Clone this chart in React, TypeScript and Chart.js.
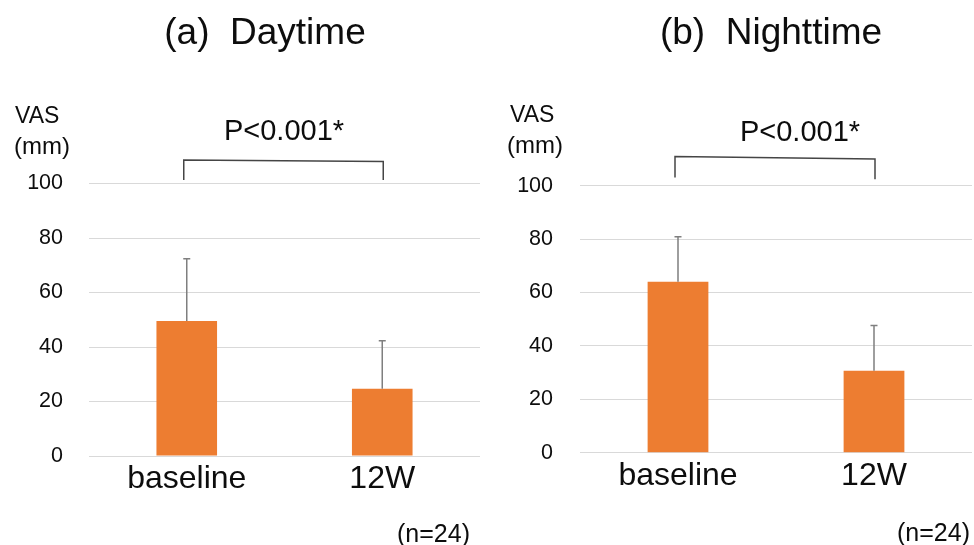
import React, { useEffect, useRef } from 'react';
import { Chart, registerables } from 'chart.js';

Chart.register(...registerables);

// ---------- data ----------
const categories = ['baseline', '12W'];
const daytimeMean = [49.5, 24.7];
const daytimeSD = [22.9, 17.6];
const nighttimeMean = [64.0, 30.7];
const nighttimeSD = [16.9, 16.9];
const yMin = 0;
const yMax = 100;
const yStep = 20;
const pValueLabel = 'P<0.001*';
const sampleLabel = '(n=24)';
const unitLines = ['VAS', '(mm)'];
// bracket heights in VAS units: [left bottom, left top, right top, right bottom]
const daytimeBracket = [101.3, 108.6, 108.1, 101.3];
const nighttimeBracket = [103.1, 110.9, 110.0, 102.4];

// ---------- styles ----------
const FONT = "'Liberation Sans', Arial, Helvetica, sans-serif";
const BAR_COLOR = '#ED7D31';
const GRID_COLOR = '#d9d9d9';
const TEXT_COLOR = '#0d0d0d';
const ERR_COLOR = '#7f7f7f';
const BRACKET_COLOR = '#454545';

type Layout = {
  canvasLeft: number;
  padTop: number;
  padRight: number;
  yWidth: number;
  xHeight: number;
  yPad: number;
  titleX: number;
  titleY: number;
  pX: number;
  pY: number;
  vasX: number;
  vasY: number;
  mmX: number;
  mmY: number;
  nX: number;
  nY: number;
};

type Panel = {
  title: string;
  mean: number[];
  sd: number[];
  bracket: number[];
  layout: Layout;
};

const panels: Panel[] = [
  {
    title: '(a)  Daytime',
    mean: daytimeMean,
    sd: daytimeSD,
    bracket: daytimeBracket,
    layout: {
      canvasLeft: 0,
      padTop: 183.5,
      padRight: 7,
      yWidth: 89,
      xHeight: 89,
      yPad: 26,
      titleX: 265,
      titleY: 44,
      pX: 284,
      pY: 140,
      vasX: 15,
      vasY: 122.5,
      mmX: 14,
      mmY: 153.5,
      nX: 470,
      nY: 541.5,
    },
  },
  {
    title: '(b)  Nighttime',
    mean: nighttimeMean,
    sd: nighttimeSD,
    bracket: nighttimeBracket,
    layout: {
      canvasLeft: 487,
      padTop: 185.7,
      padRight: 2,
      yWidth: 93,
      xHeight: 92.3,
      yPad: 27,
      titleX: 284,
      titleY: 43.5,
      pX: 313,
      pY: 140.5,
      vasX: 23,
      vasY: 122,
      mmX: 20,
      mmY: 152.5,
      nX: 483,
      nY: 540.5,
    },
  },
];

function makeAnnotations(p: Panel) {
  return {
    id: 'annotations',
    afterDatasetsDraw(chart: any) {
      const ctx: CanvasRenderingContext2D = chart.ctx;
      const ys = chart.scales.y;
      const meta = chart.getDatasetMeta(0);
      const L = p.layout;
      ctx.save();

      // error bars (mean + SD)
      ctx.strokeStyle = ERR_COLOR;
      ctx.lineWidth = 1.5;
      p.mean.forEach((m, i) => {
        const x = meta.data[i].x;
        const y0 = ys.getPixelForValue(m);
        const y1 = ys.getPixelForValue(m + p.sd[i]);
        ctx.beginPath();
        ctx.moveTo(x, y0);
        ctx.lineTo(x, y1);
        ctx.moveTo(x - 3.5, y1);
        ctx.lineTo(x + 3.5, y1);
        ctx.stroke();
      });

      // significance bracket
      const xa = meta.data[0].x - 3;
      const xb = meta.data[1].x + 1;
      ctx.strokeStyle = BRACKET_COLOR;
      ctx.lineWidth = 1.5;
      ctx.beginPath();
      ctx.moveTo(xa, ys.getPixelForValue(p.bracket[0]));
      ctx.lineTo(xa, ys.getPixelForValue(p.bracket[1]));
      ctx.lineTo(xb, ys.getPixelForValue(p.bracket[2]));
      ctx.lineTo(xb, ys.getPixelForValue(p.bracket[3]));
      ctx.stroke();

      ctx.fillStyle = TEXT_COLOR;
      ctx.textBaseline = 'alphabetic';

      // title
      ctx.textAlign = 'center';
      ctx.font = `37px ${FONT}`;
      ctx.fillText(p.title, L.titleX, L.titleY);

      // p value
      ctx.font = `29px ${FONT}`;
      ctx.fillText(pValueLabel, L.pX, L.pY);

      // unit label
      ctx.textAlign = 'left';
      ctx.font = `23px ${FONT}`;
      ctx.fillText(unitLines[0], L.vasX, L.vasY);
      ctx.font = `24px ${FONT}`;
      ctx.fillText(unitLines[1], L.mmX, L.mmY);

      // sample size
      ctx.textAlign = 'right';
      ctx.font = `25px ${FONT}`;
      ctx.fillText(sampleLabel, L.nX, L.nY);

      ctx.restore();
    },
  };
}

function PanelChart({ panel }: { panel: Panel }) {
  const ref = useRef<HTMLCanvasElement | null>(null);
  useEffect(() => {
    if (!ref.current) return;
    const L = panel.layout;
    const chart = new Chart(ref.current, {
      type: 'bar',
      data: {
        labels: categories,
        datasets: [
          {
            data: panel.mean,
            backgroundColor: BAR_COLOR,
            borderWidth: 0,
            categoryPercentage: 1,
            barPercentage: 0.31,
          },
        ],
      },
      options: {
        animation: false,
        responsive: false,
        maintainAspectRatio: false,
        events: [],
        layout: {
          padding: { top: L.padTop, right: L.padRight, left: 0, bottom: 0 },
        },
        plugins: {
          legend: { display: false },
          title: { display: false },
          tooltip: { enabled: false },
        },
        scales: {
          x: {
            grid: { display: false, drawTicks: false },
            border: { display: false },
            ticks: {
              color: TEXT_COLOR,
              font: { family: FONT, size: 32 },
              padding: 4,
              maxRotation: 0,
              autoSkip: false,
            },
            afterFit: (s: any) => {
              s.height = L.xHeight;
            },
          },
          y: {
            min: yMin,
            max: yMax,
            grid: { color: GRID_COLOR, lineWidth: 1, drawTicks: false },
            border: { display: false },
            ticks: {
              stepSize: yStep,
              color: TEXT_COLOR,
              font: { family: FONT, size: 21.5 },
              padding: L.yPad,
            },
            afterFit: (s: any) => {
              s.width = L.yWidth;
            },
          },
        },
      },
      plugins: [makeAnnotations(panel)],
    });
    return () => chart.destroy();
  }, [panel]);

  return (
    <div
      style={{
        position: 'absolute',
        left: panel.layout.canvasLeft,
        top: 0,
        width: 487,
        height: 545,
      }}
    >
      <canvas ref={ref} width={487} height={545} style={{ width: 487, height: 545, display: 'block' }} />
    </div>
  );
}

export default function App() {
  return (
    <div
      style={{
        position: 'fixed',
        left: 0,
        top: 0,
        width: 974,
        height: 545,
        background: '#ffffff',
        overflow: 'hidden',
      }}
    >
      {panels.map((p) => (
        <PanelChart key={p.title} panel={p} />
      ))}
    </div>
  );
}
